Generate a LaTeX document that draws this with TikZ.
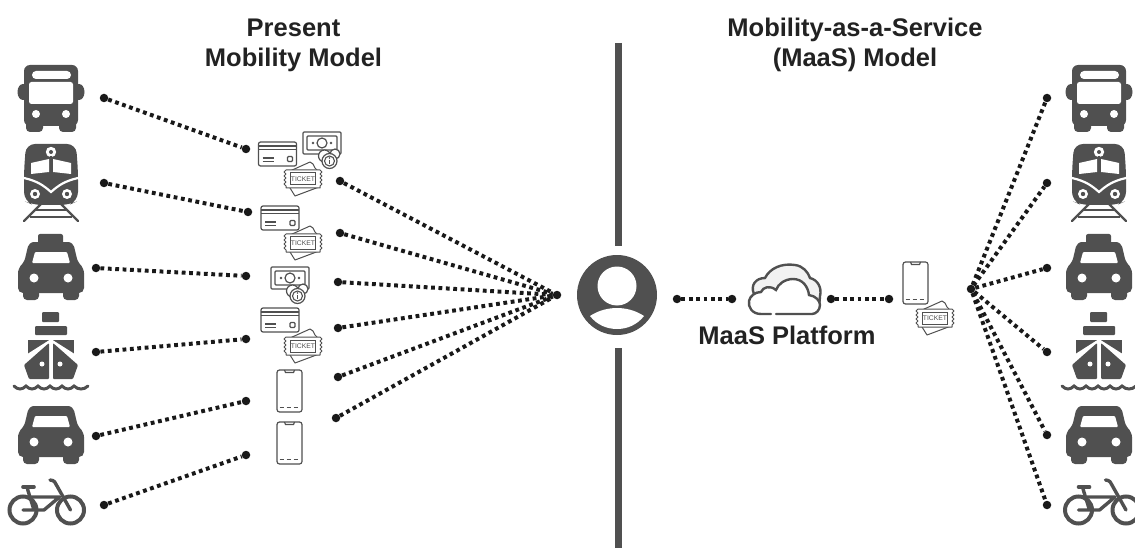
\documentclass[tikz,border=0pt]{standalone}
\usepackage{fontspec}
\setmainfont{Liberation Sans}
\definecolor{ink}{HTML}{505050}
\definecolor{txt}{HTML}{222222}
\tikzset{
  x=1pt,y=-1pt,
  title/.style={font=\fontsize{25.5}{30}\selectfont\bfseries,text=txt,align=center,inner sep=0pt},
  dotnode/.style={circle,fill=black!90,inner sep=0pt,minimum size=8.5pt},
  dotline/.style={draw=black!90,line width=4pt,dash pattern=on 3.8pt off 3.6pt},
  divider/.style={draw=ink,line width=7pt},
  thin ink/.style={draw=ink,line width=1.2pt,fill=white,line join=round},
  pics/caricon/.style={code={
    \fill[ink,rounded corners=4pt] (-28,14) rectangle (-12,29);
    \fill[ink,rounded corners=4pt] (12,14) rectangle (28,29);
    \fill[ink,rounded corners=5pt] (-15,-29) -- (15,-29) -- (22,-29) -- (27,-8) -- (33,-3) -- (33,22) -- (-33,22) -- (-33,-3) -- (-27,-8) -- (-22,-29) -- cycle;
    \fill[white,rounded corners=1pt] (-16,-19) -- (16,-19) -- (19,-8) -- (-19,-8) -- cycle;
    \fill[white] (-17,7) circle (4.5) (17,7) circle (4.5);
  }},
  pics/busicon/.style={code={
    \fill[ink] (-28,-6) ellipse (5.5 and 8) (28,-6) ellipse (5.5 and 8);
    \fill[ink,rounded corners=4pt] (-25,20) rectangle (-8,34);
    \fill[ink,rounded corners=4pt] (8,20) rectangle (25,34);
    \fill[ink,rounded corners=6pt] (-27,-33) rectangle (27,28);
    \fill[white,rounded corners=4pt] (-19,-27) rectangle (20,-19);
    \fill[white,rounded corners=2.5pt] (-22,-16) rectangle (22,6);
    \fill[white] (-15,16) circle (4) (15,16) circle (4);
  }},
  pics/trainicon/.style={code={
    \draw[ink,line width=2.4pt,line cap=round] (-10,21) -- (-27,38) (10,21) -- (27,38);
    \draw[ink,line width=2.6pt] (-17,27) -- (17,27) (-21,34) -- (21,34);
    \fill[ink,rounded corners=9pt] (-25,-39) -- (25,-39) -- (27,-12) -- (27,18) -- (18,22) -- (-18,22) -- (-27,18) -- (-27,-12) -- cycle;
    \fill[white] (-20,-20) -- (-2,-24) -- (-2,-11) -- (-20,-9) -- cycle;
    \fill[white] (20,-20) -- (2,-24) -- (2,-11) -- (20,-9) -- cycle;
    \fill[white] (0,-31) circle (5.2);
    \fill[ink] (0,-31) circle (2);
    \draw[ink,line width=2pt] (0,-27) -- (0,-22);
    \draw[white,line width=2.2pt] (-27,-5) .. controls (-14,-2) and (-8,2) .. (0,9) .. controls (8,2) and (14,-2) .. (27,-5);
    \fill[white] (-16,11) circle (5) (16,11) circle (5);
    \fill[ink] (-16,11) circle (2.2) (16,11) circle (2.2);
  }},
  pics/shipicon/.style={code={
    \fill[ink,rounded corners=1pt] (-9,-38) rectangle (8,-28);
    \fill[ink,rounded corners=1pt] (-16,-24) rectangle (16,-15);
    \fill[ink] (-23,-10) rectangle (23,4);
    \fill[white] (0,-11) -- (30,8) -- (30,30) -- (-30,30) -- (-30,8) -- cycle;
    \fill[ink,rounded corners=1pt] (-2,-7) -- (-2,29) -- (-22,29) -- (-27,15) -- cycle;
    \fill[ink,rounded corners=1pt] (2,-7) -- (2,29) -- (22,29) -- (27,15) -- cycle;
    \fill[white] (-9,14) circle (2.5) (9,14) circle (2.5);
    \draw[ink,line width=3pt,line cap=round] (-37,36) .. controls (-33,40) and (-29,40) .. (-25,36) .. controls (-21,40) and (-17,40) .. (-13,36) .. controls (-9,40) and (-5,40) .. (-1,36) .. controls (3,40) and (7,40) .. (11,36) .. controls (15,40) and (19,40) .. (23,36) .. controls (27,40) and (33,40) .. (37,36);
  }},
  pics/bikeicon/.style={code={
    \draw[ink,line width=4pt] (-24,33) circle (13.5) (23.5,33) circle (13.5);
    \draw[ink,line width=3.4pt,line cap=round,line join=round] (-24,33) -- (-3,33) -- (12.5,20) -- (-17,20) (-19.5,12) -- (-13,33);
    \draw[ink,line width=3.4pt,line cap=round,line join=round] (3,3) .. controls (7,3) and (9,6) .. (10,9) -- (23.5,33);
    \draw[ink,line width=3.6pt,line cap=round] (-24,10) -- (-13,10);
  }},
  pics/cardicon/.style={code={
    \draw[thin ink,rounded corners=2pt] (-19,-12) rectangle (19,12);
    \draw[ink,line width=1.2pt] (-19,-8) -- (19,-8) (-19,-4.5) -- (19,-4.5);
    \draw[ink,line width=1.2pt] (-15,4) -- (-4,4) (-15,7.5) -- (-4,7.5);
    \draw[ink,line width=1.2pt,rounded corners=1pt] (10,2.5) rectangle (15,7.5);
  }},
  pics/cashicon/.style={code={
    \draw[thin ink,rounded corners=1pt] (-19,-11) rectangle (19,11);
    \draw[ink,line width=1.2pt,rounded corners=1pt] (-15,-7) rectangle (15,7);
    \draw[ink,line width=1.2pt] (0,0) circle (5);
    \fill[ink] (-9,0) circle (1.3) (9,0) circle (1.3);
    \draw[thin ink] (2.5,13) circle (6) (13,11) circle (5);
    \draw[thin ink] (7.5,18) circle (7.5);
    \draw[ink,line width=1.1pt] (7.5,18) circle (5);
    \draw[ink,line width=1.3pt] (7.5,17) -- (7.5,21);
    \fill[ink] (7.5,15) circle (.8);
  }},
  pics/ticketicon/.style={code={
    \draw[thin ink,line width=1pt] (-13,9) -- (-8,17) -- (16,8) -- (15,-8) -- (12,-11) -- (10,-15) -- (7,-17) -- (-13,-8) -- cycle;
    \draw[thin ink,line width=1pt] (-17,-9) -- (17,-9) -- (19,-7) -- (17,-5) -- (19,-3) -- (17,-1) -- (19,1) -- (17,3) -- (19,5) -- (17,7) -- (17,9) -- (-17,9) -- (-17,7) -- (-19,5) -- (-17,3) -- (-19,1) -- (-17,-1) -- (-19,-3) -- (-17,-5) -- (-19,-7) -- cycle;
    \draw[ink,line width=1pt] (-12.5,-6) rectangle (12.5,6);
    \node[text=ink,inner sep=0pt,font=\fontsize{6.8}{7}\selectfont] at (0,0) {TICKET};
  }},
  pics/phoneicon/.style={code={
    \draw[thin ink,rounded corners=2.5pt] (-12.5,-21) rectangle (12.5,21);
    \draw[ink,line width=1.2pt] (-5,-21) -- (-4,-18.5) -- (4,-18.5) -- (5,-21);
    \draw[ink,line width=1.2pt,dash pattern=on 4pt off 3pt] (-10,16.5) -- (10,16.5);
  }},
  pics/usericon/.style={code={
    \fill[ink] (0,0) circle (40);
    \fill[white] (0,-9) circle (19.5);
    \fill[white] (-27,21) .. controls (-18,15) and (-8,13) .. (0,13) .. controls (8,13) and (18,15) .. (27,21) .. controls (20,30) and (10,34) .. (0,34) .. controls (-10,34) and (-20,30) .. (-27,21) -- cycle;
  }},
  pics/cloudicon/.style={code={
    \draw[ink,line width=2.4pt,fill=black!5] (754,294) .. controls (750,285) and (756,278) .. (765,278) .. controls (770,268) and (782,263) .. (795,265) .. controls (803,266) and (808,272) .. (810,278) .. controls (818,280) and (822,288) .. (820,296) .. controls (820,303) and (818,308) .. (815,310) -- (770,310) -- cycle;
    \draw[ink,line width=2.4pt,fill=white,line cap=round] (771,314) -- (761,314) .. controls (752,314) and (748,307) .. (749,301) .. controls (750,296) and (755,292) .. (761,292) .. controls (763,287) and (770,285) .. (776,290) .. controls (778,284) and (785,279) .. (793,279) .. controls (803,279) and (808,287) .. (809,295) .. controls (816,296) and (820,301) .. (820,305) .. controls (820,310) and (816,314) .. (812,314) -- (776,314);
  }}
}
\begin{document}
\begin{tikzpicture}
\useasboundingbox (0,0) rectangle (1135,548);
\clip (0,0) rectangle (1135,548);
% titles
\node[title] (tleft) at (293.5,45) {Present\\Mobility Model};
\node[title] (tright) at (855,45) {Mobility-as-a-Service\\(MaaS) Model};
\node[title] (tplat) at (787,335) {MaaS Platform};
% divider
\coordinate (d1) at (618,43); \coordinate (d2) at (618,246);
\coordinate (d3) at (618,348); \coordinate (d4) at (618,548);
\draw[divider] (d1) -- (d2) (d3) -- (d4);
% left icons
\pic at (51,98) {busicon};
\pic at (51,183) {trainicon};
\fill[ink,rounded corners=2pt] (38,234) rectangle (63,246);
\pic at (51,271) {caricon};
\pic at (51,350) {shipicon};
\pic at (51,435) {caricon};
\pic at (47,477) {bikeicon};
% right icons
\pic at (1099,98) {busicon};
\pic at (1099,183) {trainicon};
\fill[ink,rounded corners=2pt] (1086,234) rectangle (1111,246);
\pic at (1099,271) {caricon};
\pic at (1099,350) {shipicon};
\pic at (1099,435) {caricon};
\pic at (1102.5,477) {bikeicon};
% small icons
\pic at (322,143) {cashicon};
\pic at (277.5,154) {cardicon};
\pic at (303,179) {ticketicon};
\pic at (280,218) {cardicon};
\pic at (303,243) {ticketicon};
\pic at (290,278) {cashicon};
\pic at (280,320) {cardicon};
\pic at (303,346) {ticketicon};
\pic at (289.5,391) {phoneicon};
\pic at (289.5,443) {phoneicon};
\pic at (915.5,283) {phoneicon};
\pic at (935,318) {ticketicon};
\pic at (617,295) {usericon};
\pic at (0,0) {cloudicon};
% dots
\foreach \n/\x/\y in {a1/104/98,a2/104/183,a3/96/268,a4/96/352,a5/96/436,a6/104/505,
 b1/246/149,b2/248/212,b3/246/276,b4/246/339,b5/246/401,b6/246/455,
 c1/340/181,c2/340/233,c3/338/282,c4/338/328,c5/338/377,c6/336/418,
 u/557/295,p1/677/299,p2/732/299,p3/831/299,p4/889/299,h/971/289,
 r1/1047/98,r2/1047/183,r3/1047/268,r4/1047/352,r5/1047/435,r6/1047/505}
  {\node[dotnode] (\n) at (\x,\y) {};}
\foreach \s/\t in {a1/b1,a2/b2,a3/b3,a4/b4,a5/b5,a6/b6,c1/u,c2/u,c3/u,c4/u,c5/u,c6/u,p1/p2,p3/p4,h/r1,h/r2,h/r3,h/r4,h/r5,h/r6}
  {\draw[dotline] (\s) -- (\t);}
\end{tikzpicture}
\end{document}
